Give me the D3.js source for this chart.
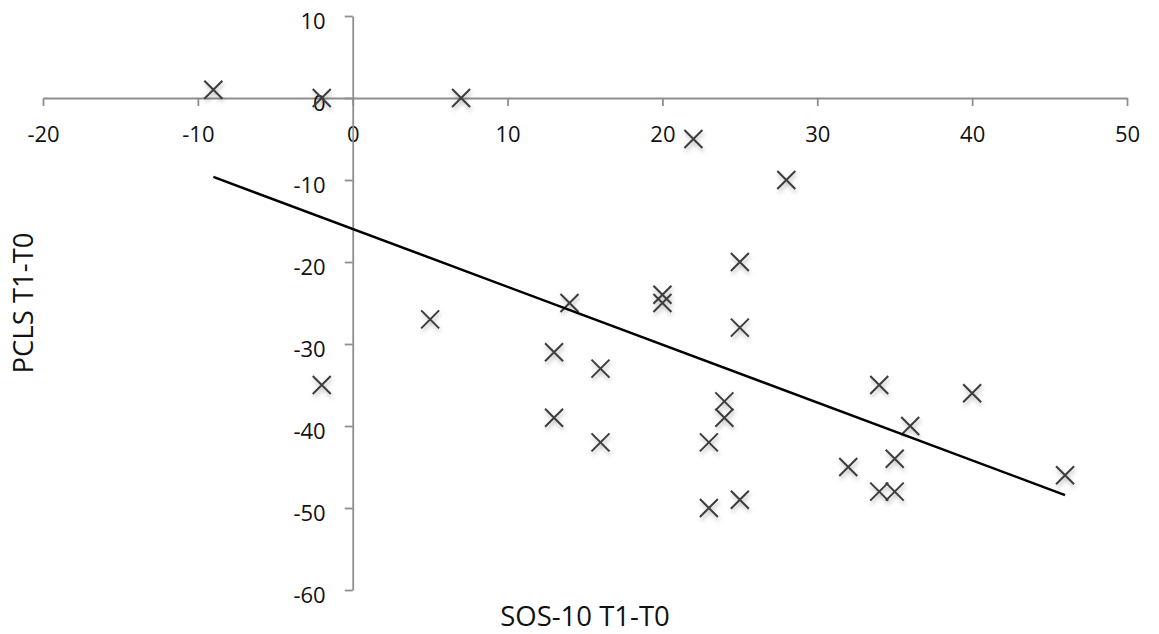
<!DOCTYPE html>
<html>
<head>
<meta charset="utf-8">
<script src="https://cdn.jsdelivr.net/npm/d3@7"></script>
<style>
  html, body { margin: 0; padding: 0; background: #fff; }
  svg { display: block; }
  text { font-family: "Open Sans", "DejaVu Sans", sans-serif; fill: #111; }
</style>
</head>
<body>
<svg id="chart" width="1159" height="634"></svg>
<script>
// ---- data ----
const sosChange = [-9, -2, 7, 22, 28, 25, 20, 20, 14, 5, 25, 13, -2, 16, 34, 40, 24, 24, 13, 36, 16, 23, 32, 35, 34, 35, 23, 25, 46];
const pclsChange = [1, 0, 0, -5, -10, -20, -24, -25, -25, -27, -28, -31, -35, -33, -35, -36, -37, -39, -39, -40, -42, -42, -45, -44, -48, -48, -50, -49, -46];
const xTicks = [-20, -10, 0, 10, 20, 30, 40, 50];
const yTicks = [10, 0, -10, -20, -30, -40, -50, -60];
const xTitle = "SOS-10 T1-T0";
const yTitle = "PCLS T1-T0";

const svg = d3.select("#chart");
const x = d3.scaleLinear().domain([-20, 50]).range([43, 1127]);
const y = d3.scaleLinear().domain([-60, 10]).range([590, 16]);

// shadow filter for markers
const defs = svg.append("defs");
const f = defs.append("filter").attr("id", "shadow")
  .attr("x", "-50%").attr("y", "-50%").attr("width", "200%").attr("height", "200%");
f.append("feDropShadow").attr("dx", 1).attr("dy", 3).attr("stdDeviation", 2)
  .attr("flood-color", "#000").attr("flood-opacity", 0.28);

// axes
const axisColor = "#8e8e8e";
const fmt = d => String(d);
const gx = svg.append("g").attr("transform", `translate(0,${y(0)})`)
  .call(d3.axisBottom(x).tickValues(xTicks).tickSize(8).tickSizeOuter(0).tickPadding(21).tickFormat(fmt));
const gy = svg.append("g").attr("transform", `translate(${x(0)},0)`)
  .call(d3.axisLeft(y).tickValues(yTicks).tickSize(8).tickSizeOuter(0).tickPadding(19).tickFormat(fmt));
[gx, gy].forEach(g => {
  g.select(".domain").attr("stroke", axisColor).attr("stroke-width", 1.8);
  g.selectAll(".tick line").attr("stroke", axisColor).attr("stroke-width", 1.8);
  g.selectAll(".tick text").attr("font-size", 22).attr("fill", "#111")
    .style("font-family", '"Open Sans", sans-serif');
});
gy.selectAll(".tick text").attr("dy", "0.55em");
gx.selectAll(".tick text").attr("dy", "0.68em");

// axis titles
svg.append("text").attr("x", (x.range()[0] + x.range()[1]) / 2).attr("y", 626)
  .attr("text-anchor", "middle").attr("font-size", 27.5).text(xTitle);
svg.append("text")
  .attr("transform", `translate(33,${(y.range()[0] + y.range()[1]) / 2}) rotate(-90)`)
  .attr("text-anchor", "middle").attr("font-size", 27.5).text(yTitle);

// markers (X shapes)
const pts = sosChange.map((v, i) => ({ x: v, y: pclsChange[i] }));
const s = 9;
const mg = svg.append("g").attr("filter", "url(#shadow)");
mg.selectAll("path.m").data(pts).enter().append("path")
  .attr("class", "m")
  .attr("d", d => {
    const cx = x(d.x), cy = y(d.y);
    return `M${cx - s},${cy - s}L${cx + s},${cy + s}M${cx - s},${cy + s}L${cx + s},${cy - s}`;
  })
  .attr("stroke", "#3c3c3c").attr("stroke-width", 2).attr("fill", "none");

// linear trend line (least squares over the data)
const mx = d3.mean(sosChange), my = d3.mean(pclsChange);
let sxy = 0, sxx = 0;
pts.forEach(p => { sxy += (p.x - mx) * (p.y - my); sxx += (p.x - mx) * (p.x - mx); });
const slope = sxy / sxx, icpt = my - slope * mx;
const [xmin, xmax] = d3.extent(sosChange);
const line = d3.line().x(d => x(d)).y(d => y(icpt + slope * d));
svg.append("path").datum([xmin, xmax]).attr("d", line)
  .attr("stroke", "#000").attr("stroke-width", 2.5).attr("fill", "none");
</script>
</body>
</html>
